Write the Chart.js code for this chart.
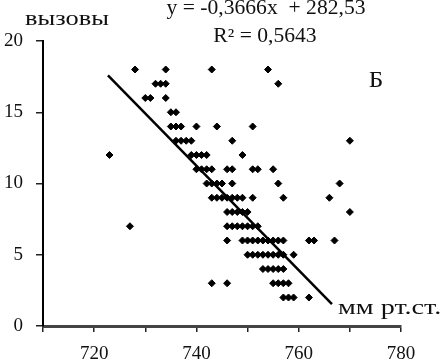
<!DOCTYPE html>
<html>
<head>
<meta charset="utf-8">
<script src="https://cdn.jsdelivr.net/npm/chart.js"></script>
<style>
  html, body { margin: 0; padding: 0; background: #fff; }
  #wrap { width: 443px; height: 363px; }
</style>
</head>
<body>
<div id="wrap"><canvas id="myChart" width="443" height="363"></canvas></div>
<script>
// pressure (mm Hg) and number of calls
const pressure = [
    728, 734, 743, 754,                                  // 18
    732, 733, 734, 756,                                  // 17
    730, 731, 734,                                       // 16
    735, 736,                                            // 15
    735, 736, 737, 740, 744, 751,                        // 14
    736, 737, 738, 739, 747, 770,                        // 13
    723, 739, 740, 741, 742, 749,                        // 12
    740, 741, 742, 743, 746, 747, 751, 752, 755,         // 11
    742, 743, 744, 745, 747, 756, 768,                   // 10
    743, 744, 745, 746, 747, 748, 749, 751, 757, 766,    // 9
    746, 747, 748, 749, 750, 770,                        // 8
    727, 746, 747, 748, 749, 750, 751, 752,              // 7
    746, 749, 750, 751, 752, 753, 754, 755, 756, 757, 762, 763, 767, // 6
    750, 751, 752, 753, 754, 755, 756, 757, 759,         // 5
    753, 754, 755, 756, 757,                             // 4
    743, 746, 755, 756, 757, 758,                        // 3
    757, 758, 759, 762                                   // 2
];
const calls = [
    18, 18, 18, 18,
    17, 17, 17, 17,
    16, 16, 16,
    15, 15,
    14, 14, 14, 14, 14, 14,
    13, 13, 13, 13, 13, 13,
    12, 12, 12, 12, 12, 12,
    11, 11, 11, 11, 11, 11, 11, 11, 11,
    10, 10, 10, 10, 10, 10, 10,
    9, 9, 9, 9, 9, 9, 9, 9, 9, 9,
    8, 8, 8, 8, 8, 8,
    7, 7, 7, 7, 7, 7, 7, 7,
    6, 6, 6, 6, 6, 6, 6, 6, 6, 6, 6, 6, 6,
    5, 5, 5, 5, 5, 5, 5, 5, 5,
    4, 4, 4, 4, 4,
    3, 3, 3, 3, 3, 3,
    2, 2, 2, 2
];

// linear trend shown on the chart
const slope = -0.3666;
const intercept = 282.53;
const trendX = [722.7, 766.5];

const xTickLabels = [720, 740, 760, 780];
const yTicks = [0, 5, 10, 15, 20];

const serif = "'Liberation Serif', 'DejaVu Serif', serif";

const points = pressure.map((p, i) => ({ x: p, y: calls[i] }));
const trend = trendX.map(x => ({ x: x, y: slope * x + intercept }));

// draw a text stretched horizontally (the source picture is a bit wide)
function wideText(ctx, text, x, y, size, stretch, align) {
    ctx.save();
    ctx.font = size + 'px ' + serif;
    const w = ctx.measureText(text).width * stretch;
    let left = x;
    if (align === 'center') left = x - w / 2;
    ctx.translate(left, y);
    ctx.scale(stretch, 1);
    ctx.textAlign = 'left';
    ctx.fillText(text, 0, 0);
    ctx.restore();
}

// Texts drawn over the chart
const labelsPlugin = {
    id: 'labels',
    afterDraw(chart) {
        const ctx = chart.ctx;
        ctx.save();
        ctx.fillStyle = '#111';
        ctx.textBaseline = 'alphabetic';

        wideText(ctx, 'вызовы', 25, 25, 22, 1.2, 'left');
        wideText(ctx, 'y = -0,3666x  + 282,53', 266, 14, 20, 1.08, 'center');
        wideText(ctx, 'R² = 0,5643', 265, 42, 20, 1.08, 'center');
        wideText(ctx, 'Б', 376, 87, 23, 1.1, 'center');
        wideText(ctx, 'мм рт.ст.', 338, 314, 22, 1.28, 'left');
        ctx.restore();
    }
};

const ctx = document.getElementById('myChart').getContext('2d');
const myChart = new Chart(ctx, {
    type: 'scatter',
    data: {
        datasets: [
            {
                data: points,
                pointStyle: 'rectRot',
                pointRadius: 3.5,
                pointBackgroundColor: '#000',
                pointBorderColor: '#000',
                pointBorderWidth: 1
            },
            {
                type: 'line',
                data: trend,
                borderColor: '#000',
                borderWidth: 2.5,
                pointRadius: 0,
                fill: false
            }
        ]
    },
    options: {
        responsive: false,
        animation: false,
        devicePixelRatio: 1,
        layout: { padding: { left: 0, right: 42, top: 41, bottom: 0 } },
        plugins: { legend: { display: false }, tooltip: { enabled: false } },
        scales: {
            x: {
                type: 'linear',
                min: 710,
                max: 780,
                afterFit: s => { s.height = 37; },
                ticks: {
                    stepSize: 10,
                    padding: 11,
                    color: '#111',
                    font: { family: serif, size: 19 },
                    maxRotation: 0,
                    autoSkip: false,
                    callback: v => xTickLabels.includes(v) ? v : ''
                },
                grid: { drawOnChartArea: false, drawTicks: true, tickLength: 6, color: '#222', lineWidth: 1.5 },
                border: { display: true, color: '#444', width: 3 }
            },
            y: {
                min: 0,
                max: 20,
                afterFit: s => { s.width = 43; },
                afterBuildTicks: s => { s.ticks = yTicks.map(v => ({ value: v })); },
                ticks: {
                    padding: 13,
                    color: '#111',
                    font: { family: serif, size: 19 }
                },
                grid: { drawOnChartArea: false, drawTicks: true, tickLength: 7, color: '#222', lineWidth: 1.5 },
                border: { display: true, color: '#000', width: 2 }
            }
        }
    },
    plugins: [labelsPlugin]
});
</script>
</body>
</html>
